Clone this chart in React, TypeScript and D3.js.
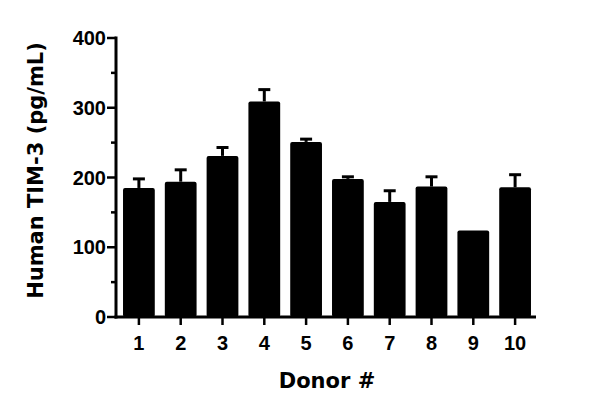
import { useEffect, useRef } from 'react';
import * as d3 from 'd3';

const donors = ['1', '2', '3', '4', '5', '6', '7', '8', '9', '10'];
const means = [185, 194, 231, 309, 251, 198, 165, 187, 124, 186];
const errors = [13, 17, 12, 17, 4, 3, 16, 14, 0, 18];
const yTicks = [0, 100, 200, 300, 400];
const yMinorTicks = [50, 150, 250, 350];

const App = () => {
  const svgRef = useRef(null);

  useEffect(() => {
    const svg = d3.select(svgRef.current);
    svg.selectAll('*').remove();

    const width = 600;
    const height = 412;
    const margin = { top: 38, right: 64, bottom: 95, left: 118 };
    const font = '"Liberation Sans", Arial, sans-serif';
    const titleFont = '"DejaVu Sans", sans-serif';

    const x = d3
      .scaleBand()
      .domain(donors)
      .range([margin.left, width - margin.right])
      .paddingInner(0.24)
      .paddingOuter(0.12);

    const y = d3
      .scaleLinear()
      .domain([0, 400])
      .range([height - margin.bottom, margin.top]);

    svg.append('rect').attr('width', width).attr('height', height).attr('fill', '#fff');

    // bars
    svg
      .selectAll('rect.bar')
      .data(means)
      .enter()
      .append('rect')
      .attr('class', 'bar')
      .attr('x', (_, i) => x(donors[i])!)
      .attr('y', (d) => y(d))
      .attr('width', x.bandwidth())
      .attr('height', (d) => y(0) - y(d))
      .attr('rx', 2)
      .attr('fill', '#000');

    // error bars (upper only)
    const eb = svg
      .selectAll('g.err')
      .data(means.map((m, i) => ({ m, e: errors[i], k: donors[i] })).filter((d) => d.e > 0))
      .enter()
      .append('g')
      .attr('class', 'err')
      .attr('stroke', '#000')
      .attr('stroke-width', 3);
    eb.append('line')
      .attr('x1', (d) => x(d.k)! + x.bandwidth() / 2)
      .attr('x2', (d) => x(d.k)! + x.bandwidth() / 2)
      .attr('y1', (d) => y(d.m))
      .attr('y2', (d) => y(d.m + d.e));
    eb.append('line')
      .attr('x1', (d) => x(d.k)! + x.bandwidth() / 2 - 6)
      .attr('x2', (d) => x(d.k)! + x.bandwidth() / 2 + 6)
      .attr('y1', (d) => y(d.m + d.e))
      .attr('y2', (d) => y(d.m + d.e));

    // y axis
    const yAxis = svg.append('g').attr('transform', `translate(${margin.left - 2},0)`);
    yAxis
      .append('line')
      .attr('x1', 0)
      .attr('x2', 0)
      .attr('y1', y(400) - 1.5)
      .attr('y2', y(0) + 1.5)
      .attr('stroke', '#000')
      .attr('stroke-width', 3);
    yAxis
      .selectAll('line.major')
      .data(yTicks)
      .enter()
      .append('line')
      .attr('x1', -9)
      .attr('x2', 0)
      .attr('y1', (d) => y(d))
      .attr('y2', (d) => y(d))
      .attr('stroke', '#000')
      .attr('stroke-width', 2.5);
    yAxis
      .selectAll('line.minor')
      .data(yMinorTicks)
      .enter()
      .append('line')
      .attr('x1', -5)
      .attr('x2', 0)
      .attr('y1', (d) => y(d))
      .attr('y2', (d) => y(d))
      .attr('stroke', '#000')
      .attr('stroke-width', 2.5);
    yAxis
      .selectAll('text')
      .data(yTicks)
      .enter()
      .append('text')
      .attr('x', -10)
      .attr('y', (d) => y(d))
      .attr('dy', '0.36em')
      .attr('text-anchor', 'end')
      .style('font-family', font)
      .style('font-size', '20px')
      .style('font-weight', 'bold')
      .text((d) => d);

    // x axis
    const xAxis = svg.append('g').attr('transform', `translate(0,${y(0)})`);
    xAxis
      .append('line')
      .attr('x1', margin.left - 3.5)
      .attr('x2', width - margin.right)
      .attr('stroke', '#000')
      .attr('stroke-width', 3);
    xAxis
      .selectAll('line.tick')
      .data(donors)
      .enter()
      .append('line')
      .attr('x1', (d) => x(d)! + x.bandwidth() / 2)
      .attr('x2', (d) => x(d)! + x.bandwidth() / 2)
      .attr('y1', 0)
      .attr('y2', 8)
      .attr('stroke', '#000')
      .attr('stroke-width', 2.5);
    xAxis
      .selectAll('text')
      .data(donors)
      .enter()
      .append('text')
      .attr('x', (d) => x(d)! + x.bandwidth() / 2)
      .attr('y', 33)
      .attr('text-anchor', 'middle')
      .style('font-family', font)
      .style('font-size', '20px')
      .style('font-weight', 'bold')
      .text((d) => d);

    // titles
    svg
      .append('text')
      .attr('x', 327)
      .attr('y', 388)
      .attr('text-anchor', 'middle')
      .style('font-family', titleFont)
      .style('font-size', '21px')
      .style('font-weight', 'bold')
      .text('Donor #');

    svg
      .append('text')
      .attr('transform', `translate(43,${(y(0) + y(400)) / 2 - 7}) rotate(-90)`)
      .attr('text-anchor', 'middle')
      .style('font-family', titleFont)
      .style('font-size', '21px')
      .style('font-weight', 'bold')
      .text('Human TIM-3 (pg/mL)');
  }, []);

  return (
    <svg
      ref={svgRef}
      width={600}
      height={412}
      style={{ position: 'absolute', left: 0, top: 0 }}
    ></svg>
  );
};

export default App;
